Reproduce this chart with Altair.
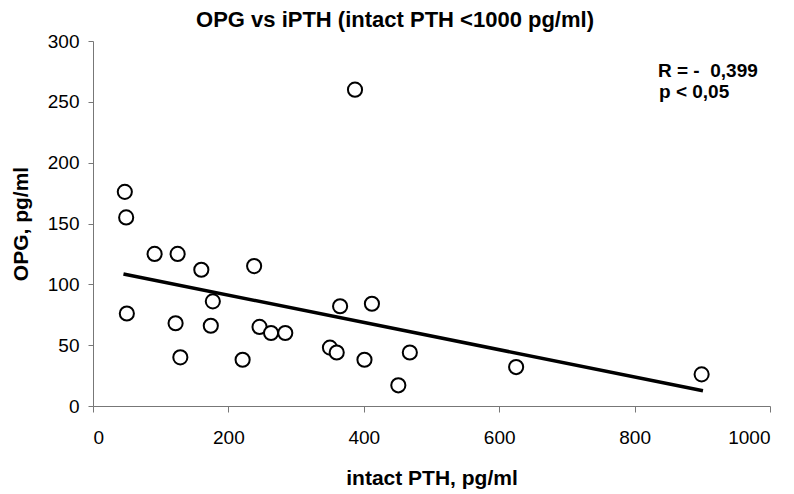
import altair as alt
import pandas as pd

pth = [47, 49, 50, 91, 125, 122, 129, 160, 177, 174, 238, 221, 246, 263, 284,
       365, 412, 350, 360, 401, 451, 468, 625, 899, 387]
opg = [176, 155, 76, 125, 125, 68, 40, 112, 86, 66, 115, 38, 65, 60, 60,
       82, 84, 48, 44, 38, 17, 44, 32, 26, 260]

trend_x = [45, 901]
trend_y = [108.5, 12.5]

x_ticks = [0, 200, 400, 600, 800, 1000]
y_ticks = [0, 50, 100, 150, 200, 250, 300]

title_text = "OPG vs iPTH (intact PTH <1000 pg/ml)"
annotations = ["R = -\u00a0 0,399", "p < 0,05"]

FONT = "Liberation Sans"

pts = pd.DataFrame({"pth": pth, "opg": opg})
trend = pd.DataFrame({"pth": trend_x, "opg": trend_y})

xscale = alt.Scale(domain=[0, 1000], nice=False)
yscale = alt.Scale(domain=[0, 300], nice=False)

xaxis = alt.Axis(values=x_ticks, format="d", title="intact PTH, pg/ml", grid=False,
                 labelFont=FONT, labelFontSize=19, labelColor="black",
                 labelPadding=16, tickSize=6, tickColor="#777", domainColor="#777",
                 titleFont=FONT, titleFontSize=21, titleFontWeight="bold",
                 titleColor="black", titlePadding=20)
yaxis = alt.Axis(values=y_ticks, title="OPG, pg/ml", grid=False,
                 labelFont=FONT, labelFontSize=19, labelColor="black",
                 labelPadding=9, tickSize=5, tickColor="#777", domainColor="#777",
                 titleFont=FONT, titleFontSize=21, titleFontWeight="bold",
                 titleColor="black", titlePadding=16)

line = alt.Chart(trend).mark_line(color="black", strokeWidth=3.5).encode(
    x=alt.X("pth:Q", scale=xscale, axis=xaxis),
    y=alt.Y("opg:Q", scale=yscale, axis=yaxis),
)

points = alt.Chart(pts).mark_point(shape="circle", filled=False, fill="white",
                                   fillOpacity=1, color="black", strokeWidth=2,
                                   size=200, opacity=1).encode(
    x=alt.X("pth:Q", scale=xscale),
    y=alt.Y("opg:Q", scale=yscale),
)

ann = pd.DataFrame({"t": annotations})
ann1 = alt.Chart(ann.iloc[[0]]).mark_text(align="left", baseline="alphabetic",
                                          font=FONT, fontSize=19, fontWeight="bold",
                                          color="black").encode(
    x=alt.value(565), y=alt.value(35.5), text="t:N")
ann2 = alt.Chart(ann.iloc[[1]]).mark_text(align="left", baseline="alphabetic",
                                          font=FONT, fontSize=19, fontWeight="bold",
                                          color="black").encode(
    x=alt.value(566), y=alt.value(56.5), text="t:N")

ttl = alt.Chart(pd.DataFrame({"t": [title_text]})).mark_text(
    align="center", baseline="alphabetic", font=FONT, fontSize=22,
    fontWeight="bold", color="black").encode(
    x=alt.value(302), y=alt.value(-14.5), text="t:N")

chart = alt.layer(line, points, ann1, ann2, ttl).properties(
    width=677, height=365,
    autosize=alt.AutoSizeParams(type="none"),
    padding={"left": 85, "top": 33, "right": 10, "bottom": 86},
).configure_view(stroke=None)

chart.save("out.html", embed_options={"renderer": "svg", "actions": False})
